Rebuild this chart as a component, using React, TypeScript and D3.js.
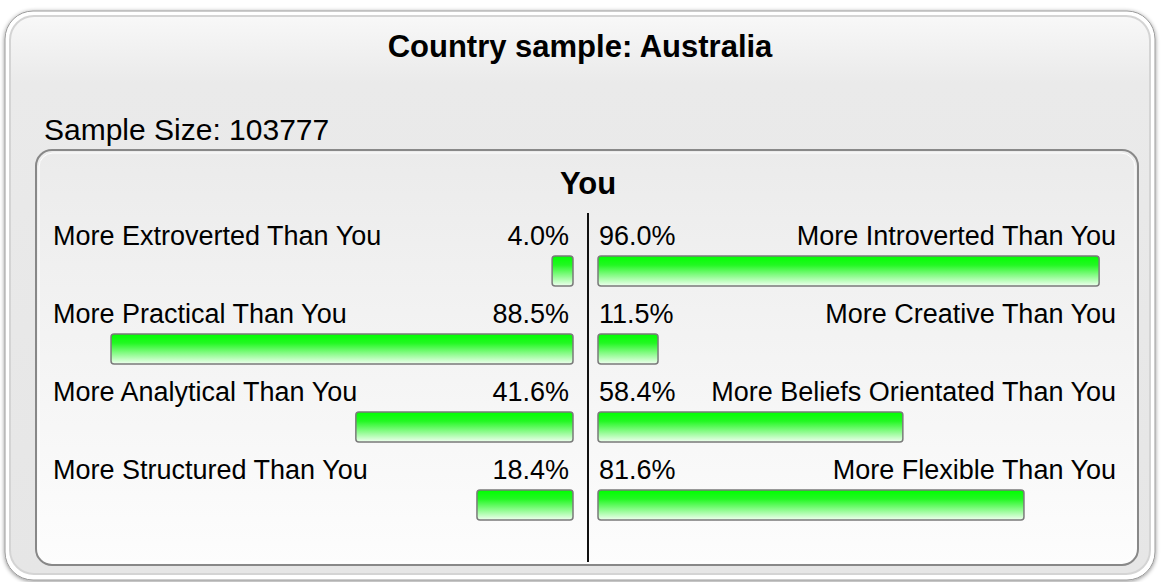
import React from "react";
import * as d3 from "d3";

const categoriesLeft = ["More Extroverted Than You", "More Practical Than You", "More Analytical Than You", "More Structured Than You"];
const categoriesRight = ["More Introverted Than You", "More Creative Than You", "More Beliefs Orientated Than You", "More Flexible Than You"];
const valuesLeft = [4.0, 88.5, 41.6, 18.4];
const valuesRight = [96.0, 11.5, 58.4, 81.6];
const title = "Country sample: Australia";
const sampleSize = "Sample Size: 103777";
const panelTitle = "You";

const W = 1161, H = 582;
const font = "'Liberation Sans', Arial, sans-serif";

export default function App() {
  const cx = 588;
  const scaleR = d3.scaleLinear().domain([0, 100]).range([0, 522]);
  const rowY = d3.scaleLinear().domain([0, 1]).range([0, 78]);
  const leftEnd = 573, rightStart = 598;
  const rows = categoriesLeft.map((c, i) => ({ l: c, r: categoriesRight[i], vl: valuesLeft[i], vr: valuesRight[i] }));
  return (
    <svg width={W} height={H} style={{ position: "absolute", left: 0, top: 0 }}>
      <defs>
        <linearGradient id="outerG" x1="0" y1="0" x2="0" y2="1">
          <stop offset="0" stopColor="#f8f8f8" />
          <stop offset="0.12" stopColor="#eaeaea" />
          <stop offset="1" stopColor="#e6e6e6" />
        </linearGradient>
        <linearGradient id="innerG" x1="0" y1="0" x2="0" y2="1">
          <stop offset="0" stopColor="#ebebeb" />
          <stop offset="1" stopColor="#fdfdfd" />
        </linearGradient>
        <linearGradient id="barG" x1="0" y1="0" x2="0" y2="1">
          <stop offset="0" stopColor="#00ff00" />
          <stop offset="0.3" stopColor="#22f822" />
          <stop offset="1" stopColor="#f0fff0" />
        </linearGradient>
        <filter id="sh" x="-5%" y="-5%" width="110%" height="110%">
          <feDropShadow dx="0" dy="1" stdDeviation="2" floodColor="#000" floodOpacity="0.45" />
        </filter>
      </defs>
      <rect x={5} y={11} width={1150} height={569} rx={28} fill="#fff" stroke="#9a9a9a" strokeWidth={1} filter="url(#sh)" />
      <rect x={10} y={16} width={1140} height={558} rx={24} fill="url(#outerG)" stroke="#d4d4d4" strokeWidth={2} />
      <text x={580} y={57} textAnchor="middle" fontFamily={font} fontWeight="bold" fontSize={31}>{title}</text>
      <text x={44} y={140} fontFamily={font} fontSize={30}>{sampleSize}</text>
      <rect x={36} y={150} width={1102} height={415} rx={16} fill="url(#innerG)" stroke="#888" strokeWidth={2} />
      <rect x={39} y={153} width={1096} height={409} rx={14} fill="none" stroke="#fff" strokeWidth={1} />
      <text x={cx} y={194} textAnchor="middle" fontFamily={font} fontWeight="bold" fontSize={31}>{panelTitle}</text>
      <line x1={cx} x2={cx} y1={213} y2={562} stroke="#111" strokeWidth={2} />
      {rows.map((r, i) => {
        const y0 = 245 + rowY(i);
        const by = 256 + rowY(i);
        const wl = scaleR(r.vl), wr = scaleR(r.vr);
        return (
          <g key={i} fontFamily={font} fontSize={27} fill="#000">
            <text x={53} y={y0}>{r.l}</text>
            <text x={569} y={y0} textAnchor="end">{r.vl.toFixed(1) + "%"}</text>
            <text x={599} y={y0}>{r.vr.toFixed(1) + "%"}</text>
            <text x={1116} y={y0} textAnchor="end">{r.r}</text>
            <rect x={leftEnd - wl} y={by} width={wl} height={30} rx={3} fill="url(#barG)" stroke="#7a7a7a" strokeWidth={1.5} />
            <rect x={rightStart} y={by} width={wr} height={30} rx={3} fill="url(#barG)" stroke="#7a7a7a" strokeWidth={1.5} />
          </g>
        );
      })}
    </svg>
  );
}
